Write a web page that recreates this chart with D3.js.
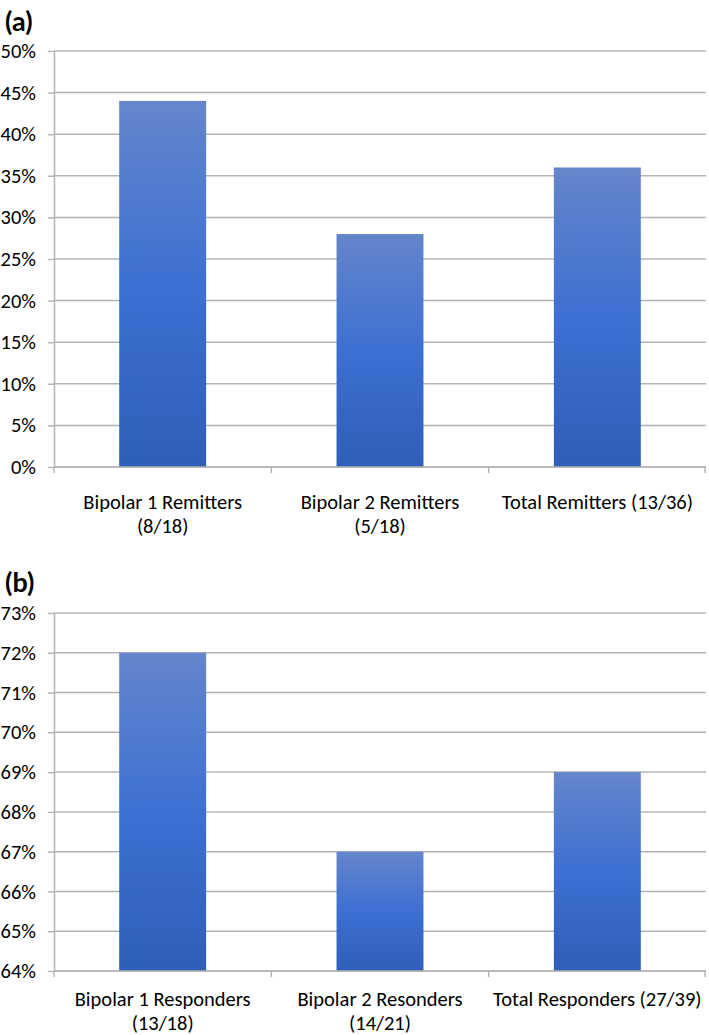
<!DOCTYPE html>
<html>
<head>
<meta charset="utf-8">
<script src="https://cdn.jsdelivr.net/npm/d3@7"></script>
<style>
  body { margin: 0; background: #fff; }
  text { font-family: Carlito, Lato, sans-serif; fill: #000; }
</style>
</head>
<body>
<div id="chart"></div>
<script>
// panel (a) - remitters
var namesA = ["Bipolar 1 Remitters", "Bipolar 2 Remitters", "Total Remitters (13/36)"];
var countsA = ["(8/18)", "(5/18)", ""];
var valuesA = [44, 28, 36];
var ticksA = [0, 5, 10, 15, 20, 25, 30, 35, 40, 45, 50];

// panel (b) - responders
var namesB = ["Bipolar 1 Responders", "Bipolar 2 Resonders", "Total Responders (27/39)"];
var countsB = ["(13/18)", "(14/21)", ""];
var valuesB = [72, 67, 69];
var ticksB = [64, 65, 66, 67, 68, 69, 70, 71, 72, 73];

var W = 709, H = 1035;
var gridColor = "#b4b4b4";
var fontSize = "20.5px";

var svg = d3.select("#chart").append("svg")
    .attr("width", W)
    .attr("height", H);

var defs = svg.append("defs");
var grad = defs.append("linearGradient")
    .attr("id", "barGrad")
    .attr("x1", 0).attr("y1", 0).attr("x2", 0).attr("y2", 1);
grad.append("stop").attr("offset", "0%").attr("stop-color", "#6486cb");
grad.append("stop").attr("offset", "50%").attr("stop-color", "#3d70d2");
grad.append("stop").attr("offset", "100%").attr("stop-color", "#2e5eb8");

var panels = [
  {label: "(a)", labelY: 31, names: namesA, counts: countsA, values: valuesA, ticks: ticksA,
   top: 51, bottom: 467, line1: 42, line2: 66},
  {label: "(b)", labelY: 592, names: namesB, counts: countsB, values: valuesB, ticks: ticksB,
   top: 613, bottom: 971, line1: 35, line2: 59}
];

var left = 54, right = 706;

panels.forEach(function(p) {
  var g = svg.append("g");

  var x = d3.scaleBand()
      .domain(p.names)
      .range([left, right])
      .padding(0);

  var y = d3.scaleLinear()
      .domain([p.ticks[0], p.ticks[p.ticks.length - 1]])
      .range([p.bottom, p.top]);

  // panel letter
  g.append("text")
      .attr("x", 5)
      .attr("y", p.labelY)
      .style("font-family", "Lato, sans-serif")
      .style("font-weight", "bold")
      .style("font-size", "27px")
      .text(p.label);

  // horizontal gridlines
  g.selectAll(".grid").data(p.ticks).enter()
    .append("line")
      .attr("x1", left)
      .attr("x2", right)
      .attr("y1", function(d) { return y(d); })
      .attr("y2", function(d) { return y(d); })
      .attr("stroke", gridColor)
      .attr("stroke-width", 1.5);

  // bars
  var bw = x.bandwidth() * 0.4;
  g.selectAll(".bar").data(p.values).enter()
    .append("rect")
      .attr("x", function(d, i) { return x(p.names[i]) + (x.bandwidth() - bw) / 2; })
      .attr("y", function(d) { return y(d); })
      .attr("width", bw)
      .attr("height", function(d) { return p.bottom - y(d); })
      .attr("fill", "url(#barGrad)");

  // y axis
  var yAxis = d3.axisLeft(y)
      .tickValues(p.ticks)
      .tickSize(6)
      .tickSizeOuter(0)
      .tickPadding(12)
      .tickFormat(function(d) { return d + "%"; });

  var ya = g.append("g")
      .attr("transform", "translate(" + left + ",0)")
      .call(yAxis);
  ya.select(".domain").attr("stroke", gridColor).attr("stroke-width", 1.5);
  ya.selectAll(".tick line").attr("stroke", gridColor).attr("stroke-width", 1.5);
  ya.selectAll(".tick text")
      .attr("fill", "#000")
      .style("font-size", fontSize)
      .style("font-family", "Carlito, Lato, sans-serif");

  // x axis line with ticks at category boundaries
  g.append("line")
      .attr("x1", left).attr("x2", right)
      .attr("y1", p.bottom).attr("y2", p.bottom)
      .attr("stroke", gridColor).attr("stroke-width", 1.5);

  var bounds = p.names.map(function(n) { return x(n); }).concat([x.range()[1] - 1]);
  g.selectAll(".xtick").data(bounds).enter()
    .append("line")
      .attr("x1", function(d) { return d; })
      .attr("x2", function(d) { return d; })
      .attr("y1", p.bottom)
      .attr("y2", p.bottom + 6)
      .attr("stroke", gridColor).attr("stroke-width", 1.5);

  // category labels
  var lab = g.selectAll(".xlab").data(p.names).enter()
    .append("text")
      .attr("text-anchor", "middle")
      .style("font-size", fontSize);
  lab.append("tspan")
      .attr("x", function(d) { return x(d) + x.bandwidth() / 2; })
      .attr("y", p.bottom + p.line1)
      .text(function(d) { return d; });
  lab.append("tspan")
      .attr("x", function(d) { return x(d) + x.bandwidth() / 2; })
      .attr("y", p.bottom + p.line2)
      .text(function(d, i) { return p.counts[i]; });
});
</script>
</body>
</html>
